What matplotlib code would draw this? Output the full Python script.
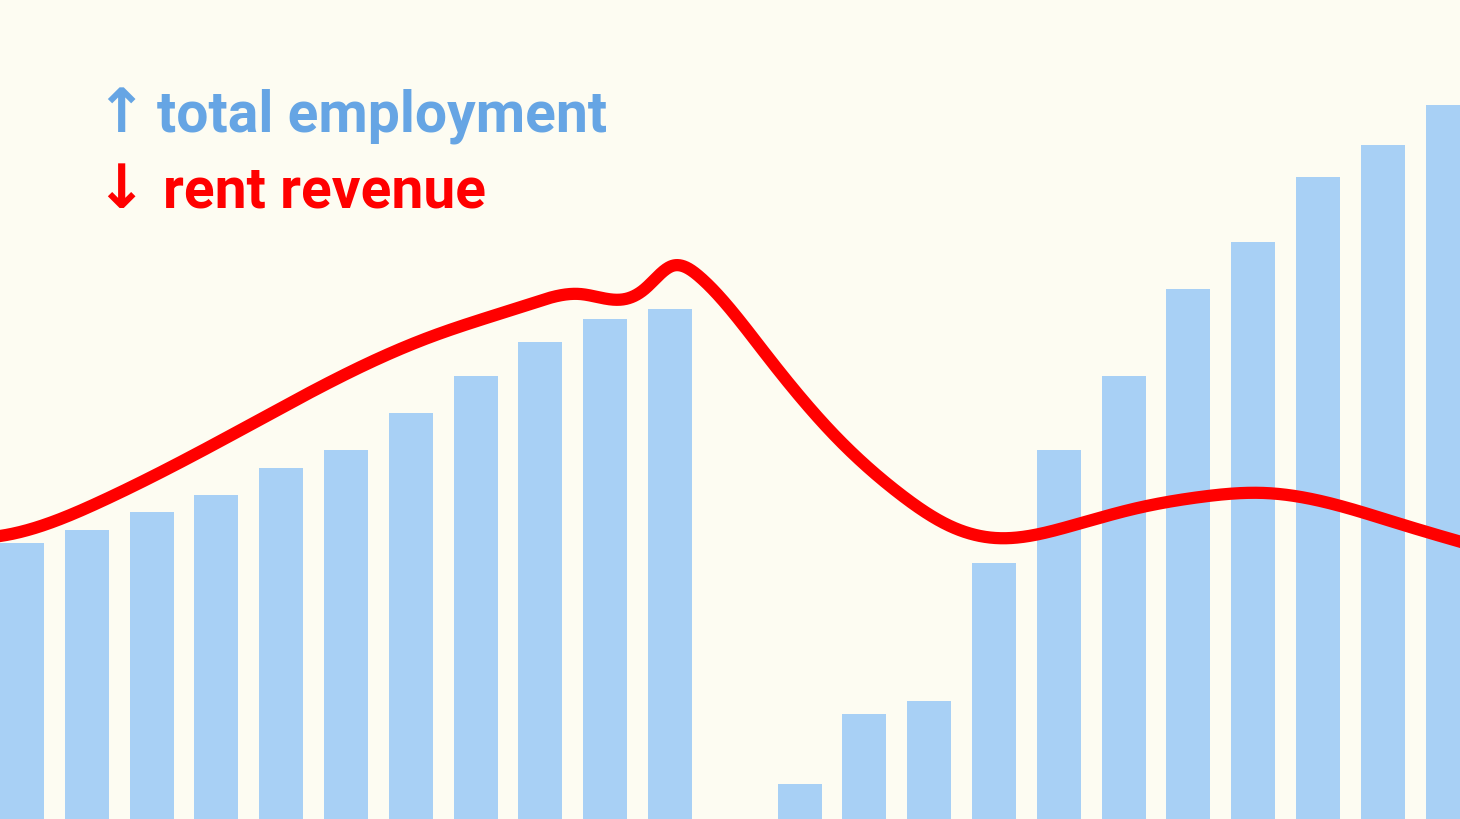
import numpy as np
import matplotlib
matplotlib.use("Agg")
import matplotlib.pyplot as plt

# ---- data ----
bar_index = list(range(23))
employment = [276, 289, 307, 324, 351, 369, 406, 443, 477, 500, 510, 0,
              35, 105, 118, 256, 369, 443, 530, 577, 642, 674, 714]

rent_x = [-0.96, -0.34, 1.20, 3.26, 5.32, 6.30, 7.84, 8.61, 9.31, 9.61,
          10.03, 10.46, 11.50, 12.52, 13.55, 14.32, 15.02, 16.13, 17.15,
          18.18, 19.18, 20.23, 21.27, 22.81]
rent_v = [280, 283, 317, 385, 455, 482, 515, 525, 520, 530,
          553, 542, 463, 385, 325, 293, 281, 292, 310,
          322, 326, 315, 295, 266]

labels = ["total employment", "rent revenue"]
arrows = ["\u2191", "\u2193"]

# ---- style ----
BG = "#FDFCF2"
BAR = "#A8D0F5"
RED = "#FF0000"
BLUE = "#66A5E4"


def natural_spline(x, y, n=80):
    x = np.asarray(x, float)
    y = np.asarray(y, float)
    N = len(x)
    h = np.diff(x)
    A = np.zeros((N, N))
    b = np.zeros(N)
    A[0, 0] = 1
    A[-1, -1] = 1
    for i in range(1, N - 1):
        A[i, i - 1] = h[i - 1]
        A[i, i] = 2 * (h[i - 1] + h[i])
        A[i, i + 1] = h[i]
        b[i] = 6 * ((y[i + 1] - y[i]) / h[i] - (y[i] - y[i - 1]) / h[i - 1])
    M = np.linalg.solve(A, b)
    xs, ys = [], []
    for i in range(N - 1):
        t = np.linspace(x[i], x[i + 1], n, endpoint=False)
        a = x[i + 1] - t
        c = t - x[i]
        s = (M[i] * a**3 + M[i + 1] * c**3) / (6 * h[i]) \
            + (y[i] / h[i] - M[i] * h[i] / 6) * a \
            + (y[i + 1] / h[i] - M[i + 1] * h[i] / 6) * c
        xs.append(t)
        ys.append(s)
    xs.append([x[-1]])
    ys.append([y[-1]])
    return np.concatenate(xs), np.concatenate(ys)


fig = plt.figure(figsize=(14.6, 8.2), dpi=100, facecolor=BG)
ax = fig.add_axes([0, 0, 1, 1])
ax.set_facecolor(BG)

ax.bar(bar_index, employment, width=0.68, color=BAR, zorder=1)
sx, sy = natural_spline(rent_x, rent_v)
ax.plot(sx, sy, color=RED, lw=8.8, solid_joinstyle="round", zorder=2)

ax.set_xlim(-22 / 64.8, (1460 - 22) / 64.8)
ax.set_ylim(0, 820)
ax.axis("off")

fam = ["Roboto", "DejaVu Sans"]
fig.text(95 / 1460, 1 - 132 / 820, arrows[0], color=BLUE, fontsize=44,
         family=["DejaVu Sans"], fontweight="bold", ha="left", va="baseline")
fig.text(157 / 1460, 1 - 132 / 820, labels[0], color=BLUE, fontsize=41,
         fontweight="bold", family=fam, ha="left", va="baseline")
fig.text(95 / 1460, 1 - 208 / 820, arrows[1], color=RED, fontsize=44,
         family=["DejaVu Sans"], fontweight="bold", ha="left", va="baseline")
fig.text(163 / 1460, 1 - 208 / 820, labels[1], color=RED, fontsize=41,
         fontweight="bold", family=fam, ha="left", va="baseline")

fig.savefig("out.png", dpi=100, facecolor=BG)
